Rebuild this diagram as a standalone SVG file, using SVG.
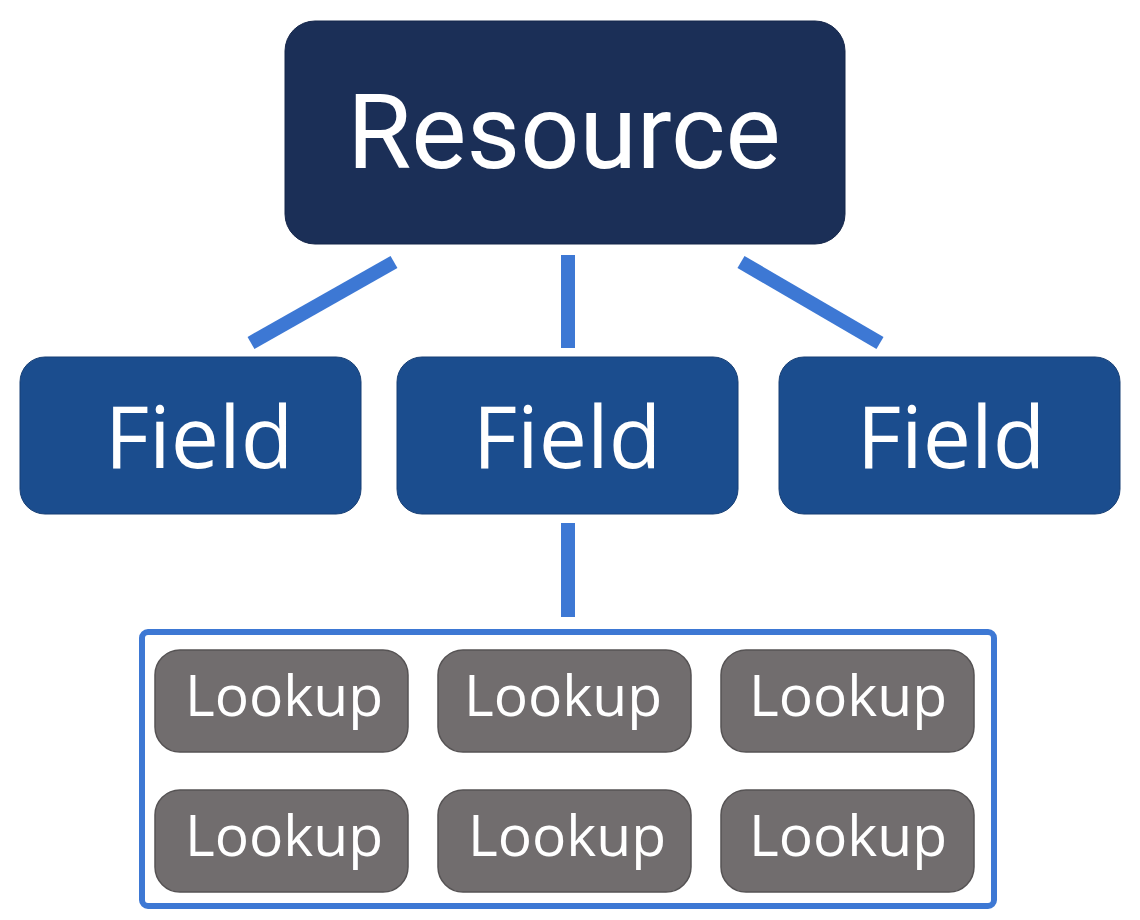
<svg xmlns="http://www.w3.org/2000/svg" width="1140" height="920" viewBox="0 0 1140 920">
<style>
.res{fill:#1b2f57;stroke:#15264a;stroke-width:1}
.fld{fill:#1b4d8e;stroke:#173f75;stroke-width:1}
.lk{fill:#716d6e;stroke:#565354;stroke-width:1.5}
.con{stroke:#3d78d4;stroke-width:14;fill:none}
.t{fill:#ffffff;text-anchor:middle}
.tr{font-family:Roboto,"Liberation Sans",sans-serif;font-size:104px}
.tf{font-family:"Open Sans","Noto Sans",sans-serif;font-size:86px}
.tl{font-family:"Open Sans","Noto Sans",sans-serif;font-size:57px}
</style>
<rect width="1140" height="920" fill="#ffffff"/>
<g id="connectors">
<line class="con" x1="394" y1="262" x2="251" y2="343"/>
<line class="con" x1="568" y1="255" x2="568" y2="348"/>
<line class="con" x1="741" y1="262" x2="880" y2="343"/>
<line class="con" x1="568" y1="523" x2="568" y2="617"/>
</g>
<g id="resource"><rect class="res" x="285" y="21" width="560" height="223" rx="30"/><text class="t tr" x="564" y="168">Resource</text></g>
<g id="field1"><rect class="fld" x="20" y="357" width="341" height="157" rx="25"/><text class="t tf" x="199" y="468">Field</text></g>
<g id="field2"><rect class="fld" x="397" y="357" width="341" height="157" rx="25"/><text class="t tf" x="567" y="468">Field</text></g>
<g id="field3"><rect class="fld" x="779" y="357" width="341" height="157" rx="25"/><text class="t tf" x="951" y="468">Field</text></g>
<g id="lookups">
<rect x="142" y="632" width="852" height="274" rx="6" fill="none" stroke="#3d78d4" stroke-width="6"/>
<g id="lookup1"><rect class="lk" x="155" y="650" width="253" height="102" rx="25"/><text class="t tl" x="284" y="716">Lookup</text></g>
<g id="lookup2"><rect class="lk" x="438" y="650" width="253" height="102" rx="25"/><text class="t tl" x="563" y="716">Lookup</text></g>
<g id="lookup3"><rect class="lk" x="721" y="650" width="253" height="102" rx="25"/><text class="t tl" x="848" y="716">Lookup</text></g>
<g id="lookup4"><rect class="lk" x="155" y="790" width="253" height="102" rx="25"/><text class="t tl" x="284" y="856">Lookup</text></g>
<g id="lookup5"><rect class="lk" x="438" y="790" width="253" height="102" rx="25"/><text class="t tl" x="567" y="856">Lookup</text></g>
<g id="lookup6"><rect class="lk" x="721" y="790" width="253" height="102" rx="25"/><text class="t tl" x="848" y="856">Lookup</text></g>
</g>
</svg>
